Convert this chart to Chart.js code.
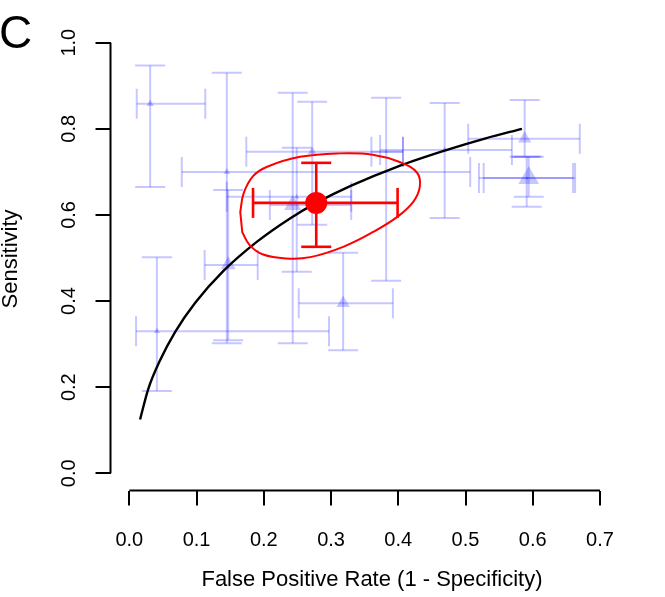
<!DOCTYPE html>
<html>
<head>
<meta charset="utf-8">
<script src="https://cdn.jsdelivr.net/npm/chart.js@4.4.1/dist/chart.umd.min.js"></script>
<style>
    html, body { margin: 0; padding: 0; background: #ffffff; }
</style>
</head>
<body>
<canvas id="srocChart" width="665" height="597"></canvas>
<script>
// axis ticks
const xTicks = [0, 0.1, 0.2, 0.3, 0.4, 0.5, 0.6, 0.7];
const yTicks = [0, 0.2, 0.4, 0.6, 0.8, 1.0];

// single studies
const studyFpr    = [0.031, 0.145, 0.147, 0.041, 0.318, 0.243, 0.272, 0.382, 0.469, 0.588, 0.594, 0.591, 0.249];
const studySens   = [0.858, 0.700, 0.484, 0.330, 0.395, 0.623, 0.747, 0.747, 0.751, 0.777, 0.686, 0.686, 0.642];
const studyFprLo  = [0.011, 0.078, 0.112, 0.010, 0.252, 0.209, 0.174, 0.360, 0.373, 0.504, 0.527, 0.520, 0.145];
const studyFprHi  = [0.113, 0.507, 0.191, 0.297, 0.392, 0.330, 0.407, 0.407, 0.569, 0.670, 0.663, 0.660, 0.330];
const studySensLo = [0.665, 0.302, 0.309, 0.191, 0.286, 0.302, 0.577, 0.447, 0.593, 0.735, 0.642, 0.619, 0.468];
const studySensHi = [0.947, 0.930, 0.658, 0.502, 0.512, 0.884, 0.863, 0.872, 0.860, 0.867, 0.735, 0.735, 0.756];
const studyWeight = [1.2, 1.0, 4.7, 0.8, 3.7, 6.2, 1.6, 0.25, 0.8, 3.7, 9.0, 0.25, 0.6];

// summary estimate
const summaryFpr = 0.278;
const summarySens = 0.628;
const summaryFprCI = [0.184, 0.399];
const summarySensCI = [0.526, 0.721];

// SROC curve
const srocFpr  = [0.016, 0.028, 0.045, 0.068, 0.098, 0.140, 0.190, 0.239, 0.278, 0.330, 0.400, 0.470, 0.530, 0.584];
const srocSens = [0.125, 0.195, 0.260, 0.328, 0.396, 0.470, 0.538, 0.592, 0.628, 0.668, 0.713, 0.750, 0.778, 0.800];

// confidence region (closed outline)
const regionFpr  = [0.165, 0.170, 0.184, 0.205, 0.254, 0.313, 0.362, 0.402, 0.428, 0.432, 0.422, 0.398, 0.362, 0.318, 0.269, 0.234, 0.199, 0.179, 0.168];
const regionSens = [0.607, 0.650, 0.690, 0.712, 0.735, 0.743, 0.740, 0.723, 0.698, 0.665, 0.630, 0.595, 0.560, 0.526, 0.502, 0.499, 0.508, 0.530, 0.560];

const xTitle = 'False Positive Rate (1 - Specificity)';
const yTitle = 'Sensitivity';
const panelLabel = 'C';

const FONT = "'Liberation Sans', Arial, Helvetica, sans-serif";
const BLUE_LINE = 'rgba(0, 0, 255, 0.22)';
const BLUE_FILL = 'rgba(0, 0, 255, 0.22)';
const CAP = 15;

Chart.defaults.font.family = FONT;

function errorBar(ctx, x1, y1, x2, y2, vertical) {
    const segs = vertical
        ? [[x1, y1, x2, y2], [x1 - CAP, y1, x1 + CAP, y1], [x2 - CAP, y2, x2 + CAP, y2]]
        : [[x1, y1, x2, y2], [x1, y1 - CAP, x1, y1 + CAP], [x2, y2 - CAP, x2, y2 + CAP]];
    segs.forEach(s => {
        ctx.beginPath();
        ctx.moveTo(s[0], s[1]);
        ctx.lineTo(s[2], s[3]);
        ctx.stroke();
    });
}

const errorBars = {
    id: 'errorBars',
    beforeDatasetsDraw(chart) {
        const { ctx, chartArea, scales: { x, y } } = chart;
        ctx.save();
        ctx.beginPath();
        ctx.rect(chartArea.left, chartArea.top, chartArea.right - chartArea.left, chartArea.bottom - chartArea.top);
        ctx.clip();
        ctx.strokeStyle = BLUE_LINE;
        ctx.lineWidth = 2;
        studyFpr.forEach((fx, i) => {
            const px = x.getPixelForValue(fx);
            const py = y.getPixelForValue(studySens[i]);
            errorBar(ctx, x.getPixelForValue(studyFprLo[i]), py, x.getPixelForValue(studyFprHi[i]), py, false);
            errorBar(ctx, px, y.getPixelForValue(studySensLo[i]), px, y.getPixelForValue(studySensHi[i]), true);
        });
        ctx.restore();
    },
    beforeDatasetDraw(chart, args) {
        // close the confidence region outline into a smooth loop
        if (args.index !== 1) return;
        const line = args.meta.dataset;
        line._loop = true;
        line._fullLoop = true;
        line._pointsUpdated = false;
        delete line._path;
        delete line._segments;
    },
    afterDatasetDraw(chart, args) {
        if (args.index !== 1) return;
        const { ctx, scales: { x, y } } = chart;
        const px = x.getPixelForValue(summaryFpr);
        const py = y.getPixelForValue(summarySens);
        ctx.save();
        ctx.strokeStyle = '#ff0000';
        ctx.lineWidth = 2.6;
        errorBar(ctx, x.getPixelForValue(summaryFprCI[0]), py, x.getPixelForValue(summaryFprCI[1]), py, false);
        errorBar(ctx, px, y.getPixelForValue(summarySensCI[0]), px, y.getPixelForValue(summarySensCI[1]), true);
        ctx.restore();
    }
};

const rAxes = {
    id: 'rAxes',
    afterDraw(chart) {
        const { ctx, chartArea, scales: { x, y } } = chart;
        ctx.save();
        ctx.strokeStyle = '#000';
        ctx.lineWidth = 2;
        ctx.beginPath();
        ctx.moveTo(chartArea.left, y.getPixelForValue(yTicks[0]));
        ctx.lineTo(chartArea.left, y.getPixelForValue(yTicks[yTicks.length - 1]));
        ctx.stroke();
        ctx.beginPath();
        ctx.moveTo(x.getPixelForValue(xTicks[0]), chartArea.bottom);
        ctx.lineTo(x.getPixelForValue(xTicks[xTicks.length - 1]), chartArea.bottom);
        ctx.stroke();

        ctx.fillStyle = '#000';
        ctx.font = '20px ' + FONT;
        ctx.textAlign = 'center';
        ctx.textBaseline = 'middle';
        yTicks.forEach(v => {
            ctx.save();
            ctx.translate(69, y.getPixelForValue(v));
            ctx.rotate(-Math.PI / 2);
            ctx.fillText(v.toFixed(1), 0, 0);
            ctx.restore();
        });

        // axis titles
        ctx.font = '22px ' + FONT;
        ctx.fillText(xTitle, 372, 580);
        ctx.save();
        ctx.translate(11, 259);
        ctx.rotate(-Math.PI / 2);
        ctx.fillText(yTitle, 0, 0);
        ctx.restore();

        ctx.font = '46px ' + FONT;
        ctx.textAlign = 'left';
        ctx.textBaseline = 'alphabetic';
        ctx.fillText(panelLabel, -1, 48);
        ctx.restore();
    }
};

const pts = (xs, ys) => xs.map((v, i) => ({ x: v, y: ys[i] }));

new Chart(document.getElementById('srocChart'), {
    type: 'scatter',
    data: {
        datasets: [
            {
                label: 'Summary',
                data: [{ x: summaryFpr, y: summarySens }],
                pointRadius: 11,
                backgroundColor: '#ff0000',
                borderWidth: 0
            },
            {
                label: 'Confidence region',
                data: pts(regionFpr, regionSens),
                showLine: true,
                tension: 0.4,
                borderColor: '#ff0000',
                borderWidth: 2,
                pointRadius: 0,
                fill: false
            },
            {
                label: 'SROC',
                data: pts(srocFpr, srocSens),
                showLine: true,
                cubicInterpolationMode: 'monotone',
                borderColor: '#000',
                borderWidth: 2.4,
                pointRadius: 0,
                fill: false
            },
            {
                label: 'Studies',
                data: pts(studyFpr, studySens),
                pointStyle: 'triangle',
                pointRadius: studyWeight.map(w => 4 * Math.sqrt(w)),
                backgroundColor: BLUE_FILL,
                borderWidth: 0
            }
        ]
    },
    options: {
        responsive: false,
        animation: false,
        events: [],
        layout: { padding: { left: 0, top: 25.5, right: 46.2, bottom: 0 } },
        plugins: {
            legend: { display: false },
            tooltip: { enabled: false }
        },
        scales: {
            x: {
                type: 'linear',
                min: -0.028,
                max: 0.728,
                afterBuildTicks: scale => { scale.ticks = xTicks.map(v => ({ value: v })); },
                afterFit: scale => { scale.height = 106.5; },
                border: { display: false },
                grid: { drawOnChartArea: false, drawTicks: true, tickLength: 15, color: '#000', lineWidth: 2 },
                ticks: {
                    padding: 23,
                    color: '#000',
                    font: { size: 20 },
                    maxRotation: 0,
                    callback: v => v.toFixed(1)
                }
            },
            y: {
                type: 'linear',
                min: -0.04,
                max: 1.04,
                afterBuildTicks: scale => { scale.ticks = yTicks.map(v => ({ value: v })); },
                afterFit: scale => { scale.width = 110.5; },
                border: { display: false },
                grid: { drawOnChartArea: false, drawTicks: true, tickLength: 15, color: '#000', lineWidth: 2 },
                ticks: { display: false }
            }
        }
    },
    plugins: [errorBars, rAxes]
});
</script>
</body>
</html>
